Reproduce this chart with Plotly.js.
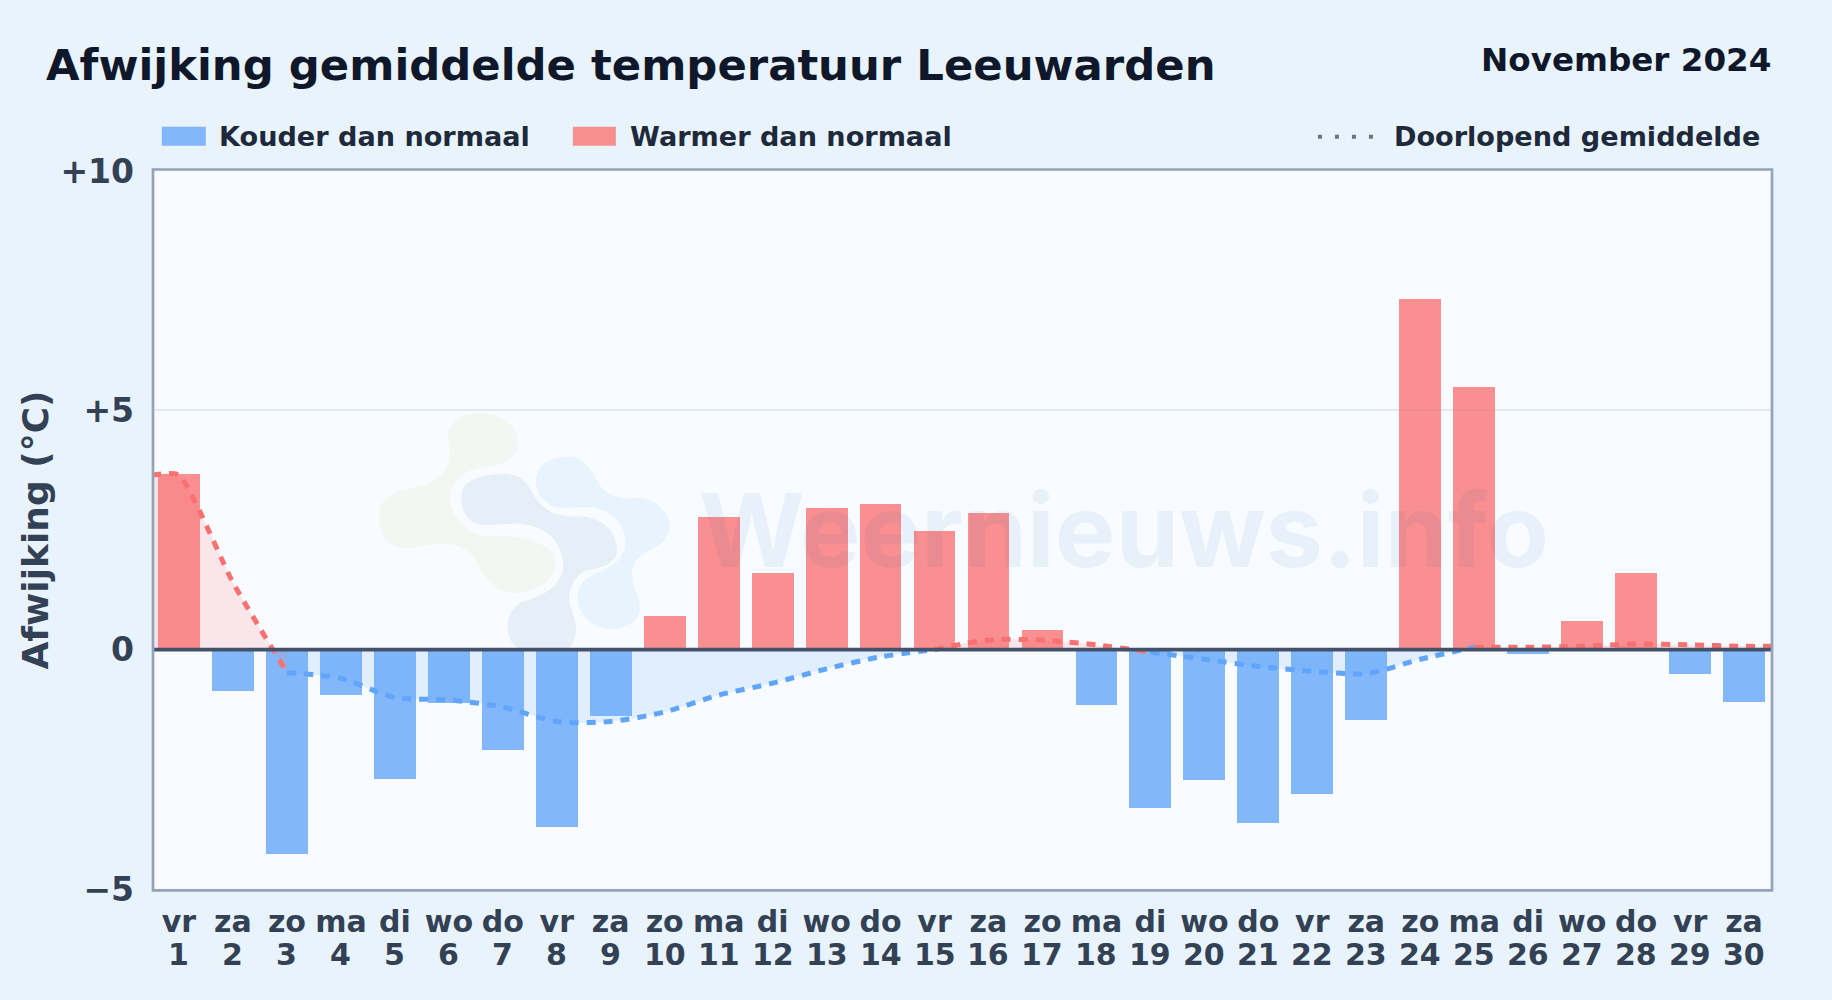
<!DOCTYPE html>
<html><head><meta charset="utf-8">
<script src="https://cdn.plot.ly/plotly-3.0.1.min.js"></script>
<style>html,body{margin:0;padding:0;background:#e9f3fc;overflow:hidden}#chart{width:1832px;height:1000px}</style>
</head><body><div id="chart"></div>
<script>
const weekdays = ['vr','za','zo','ma','di','wo','do','vr','za','zo','ma','di','wo','do','vr','za','zo','ma','di','wo','do','vr','za','zo','ma','di','wo','do','vr','za'];
const days = [1,2,3,4,5,6,7,8,9,10,11,12,13,14,15,16,17,18,19,20,21,22,23,24,25,26,27,28,29,30];
const afwijking = [3.68,-0.86,-4.26,-0.95,-2.7,-1.12,-2.1,-3.7,-1.38,0.7,2.78,1.6,2.95,3.05,2.47,2.85,0.42,-1.15,-3.3,-2.72,-3.62,-3.01,-1.47,7.33,5.48,-0.1,0.6,1.6,-0.5,-1.1];
const doorlopend = [3.65,1.4,-0.48,-0.6,-1.0,-1.05,-1.2,-1.5,-1.5,-1.3,-0.95,-0.7,-0.4,-0.15,0.0,0.2,0.2,0.1,-0.05,-0.2,-0.35,-0.45,-0.5,-0.2,0.05,0.05,0.07,0.12,0.1,0.07];
const yTicks = [-5,0,5,10];
const yTickLabels = ['−5','0','+5','+10'];
const RED='#f87171', BLUE='#60a5fa', INK='#334155', LEG='#1e293b', TITLE='#0f172a';
const FONT='"DejaVu Sans"';
const W=1832,H=1000,L=152.2,R=1771,T=171.3,B=889.3;
const px=x=>(x-L)/(R-L), py=y=>(B-y)/(B-T);

const extX=[0.5,...days,30.5];
const extY=[doorlopend[0],...doorlopend,doorlopend[29]];
// runs of the running mean, coloured by the sign where the segment starts
const runs=[[0,3],[3,15],[15,19],[19,25],[25,31]];
const traces=[];
traces.push({type:'bar',x:days,y:afwijking,width:0.775,showlegend:false,hoverinfo:'x+y',
  marker:{color:afwijking.map(v=>v>=0?'rgba(248,113,113,0.78)':'rgba(96,165,250,0.78)'),line:{width:0}}});
runs.forEach(([a,b],k)=>{
  const pos=k%2===0;
  let xs=extX.slice(a,b+1), ys=extY.slice(a,b+1);
  const sm=k===0?0.5:0.8;
  traces.push({type:'scatter',mode:'lines',x:xs,y:ys,fill:'tozeroy',hoverinfo:'skip',showlegend:false,
    fillcolor:pos?'rgba(248,113,113,0.15)':'rgba(96,165,250,0.15)',
    line:{color:'rgba(0,0,0,0)',width:0,shape:'spline',smoothing:sm}});
  traces.push({type:'scatter',mode:'lines',x:xs,y:ys,hoverinfo:'skip',showlegend:false,
    line:{color:pos?RED:BLUE,width:5,dash:'9px,8px',shape:'spline',smoothing:sm}});
});

// pale logo behind the chart
const Lx=X=>px(340+X/3), Ly=Y=>py(380+Y/3);
function blob(pts){let s='M'+Lx(pts[0])+','+Ly(pts[1]);
  for(let i=2;i<pts.length;i+=6){s+=' C'+Lx(pts[i])+','+Ly(pts[i+1])+' '+Lx(pts[i+2])+','+Ly(pts[i+3])+' '+Lx(pts[i+4])+','+Ly(pts[i+5]);}
  return s+' Z';}
const green=blob([325,170, 330,75,510,75,533,175, 540,225,510,250,440,262, 380,265,335,300,330,360, 335,420,400,465,430,470, 500,465,580,465,640,520, 665,585,610,630,530,640, 470,640,440,600,425,570, 395,510,360,490,300,492, 250,495,220,510,180,503, 125,490,112,440,120,390, 130,340,190,330,240,320, 300,305,330,270,330,210, 330,195,325,185,325,170]);
const navy=blob([365,350, 365,300,430,282,490,282, 540,282,565,310,575,335, 600,385,640,410,700,410, 780,405,830,450,832,510, 830,550,790,565,745,570, 700,585,680,640,690,680, 715,730,715,770,690,805, 640,812,580,812,530,805, 495,770,490,710,540,670, 590,650,650,640,670,570, 675,510,640,440,540,432, 480,430,420,445,395,425, 370,405,365,380,365,350]);
const blue=blob([590,290, 600,240,650,230,700,232, 740,240,760,280,775,310, 800,350,840,360,900,355, 960,360,990,410,990,445, 985,490,940,505,905,525, 870,550,870,600,890,640, 910,690,900,720,860,740, 810,760,760,745,735,710, 710,680,705,640,730,605, 760,580,830,565,850,520, 870,470,840,400,770,385, 720,375,660,395,630,375, 590,345,585,320,590,290]);

const shapes=[
 {type:'path',path:green,xref:'paper',yref:'paper',fillcolor:'#f2f7f2',line:{width:0},layer:'below'},
 {type:'path',path:navy,xref:'paper',yref:'paper',fillcolor:'#e6eff7',line:{width:0},layer:'below'},
 {type:'path',path:blue,xref:'paper',yref:'paper',fillcolor:'#e7f4fe',line:{width:0},layer:'below'},
 // zero line
 {type:'line',xref:'x',yref:'y',x0:0.5,x1:30.5,y0:0,y1:0,line:{color:'#43526a',width:3.8}},
 // frame
 {type:'rect',xref:'paper',yref:'paper',x0:px(153.2),x1:px(1772),y0:py(169.8),y1:py(890.7),line:{color:'#94a3b8',width:2.7},fillcolor:'rgba(0,0,0,0)'},
 // legend swatches
 {type:'rect',xref:'paper',yref:'paper',x0:px(162),x1:px(206),y0:py(127),y1:py(146),fillcolor:'rgb(130,182,251)',line:{width:0}},
 {type:'rect',xref:'paper',yref:'paper',x0:px(573),x1:px(616),y0:py(127),y1:py(146),fillcolor:'rgb(248,143,143)',line:{width:0}},
 {type:'line',xref:'paper',yref:'paper',x0:px(1318),x1:px(1374),y0:py(137),y1:py(137),line:{color:'#64748b',width:4,dash:'4px,13px'}},
];
const ann=(text,x,y,size,color,xanchor)=>({text,x:px(x),y:py(y),xref:'paper',yref:'paper',showarrow:false,xanchor,yanchor:'middle',font:{family:FONT,size,color},borderpad:0});
const annotations=[
 ann('<b>Afwijking gemiddelde temperatuur Leeuwarden</b>',45.5,65,43.35,TITLE,'left'),
 ann('<b>November 2024</b>',1772,60,32.6,TITLE,'right'),
 ann('<b>Kouder dan normaal</b>',218,137,27.1,LEG,'left'),
 ann('<b>Warmer dan normaal</b>',629,137,27.1,LEG,'left'),
 ann('<b>Doorlopend gemiddelde</b>',1761,137,27.1,LEG,'right'),
 {text:'Weernieuws.info',x:px(1124.5),y:py(530),xref:'paper',yref:'paper',showarrow:false,xanchor:'center',yanchor:'middle',font:{family:'Inter',size:102,weight:700,color:'rgba(30,100,170,0.07)'}},
];
days.forEach(d=>annotations.push({text:'<b>'+d+'</b>',x:d,xref:'x',y:py(955),yref:'paper',showarrow:false,xanchor:'center',yanchor:'middle',font:{family:FONT,size:30,color:INK}}));

const layout={width:W,height:H,paper_bgcolor:'#e9f3fc',plot_bgcolor:'#f8fbff',
 margin:{l:L,r:W-R,t:T,b:H-B,pad:0},showlegend:false,bargap:0,font:{family:FONT},
 xaxis:{type:'linear',range:[0.5,30.5],tickmode:'array',tickvals:days,ticktext:weekdays.map(w=>'<b>'+w+'</b>'),ticks:'',showgrid:false,zeroline:false,
   showline:false,tickfont:{family:FONT,size:30,color:INK},ticklabelstandoff:12},
 yaxis:{range:[-5,10],tickmode:'array',tickvals:yTicks,ticktext:yTickLabels.map(t=>'<b>'+t+'</b>'),ticks:'',showgrid:true,gridcolor:'#e2e8f0',gridwidth:1.5,zeroline:false,
   showline:false,tickfont:{family:FONT,size:33,color:INK},ticklabelstandoff:17,
   title:{text:'<b>Afwijking (°C)</b>',font:{family:FONT,size:36,color:INK},standoff:0}},
 shapes,annotations};
Plotly.newPlot('chart',traces,layout,{displayModeBar:false,responsive:false});
</script></body></html>
